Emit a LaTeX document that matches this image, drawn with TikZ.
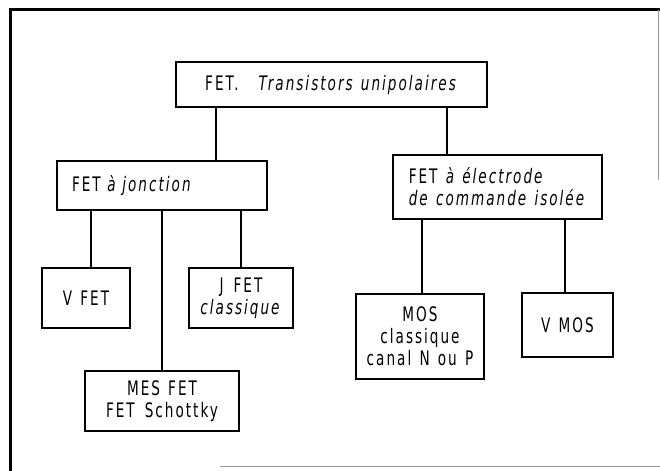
\documentclass[tikz,border=0pt]{standalone}
\usepackage{fontspec}
\setmainfont{DejaVu Sans}[FakeStretch=0.68, LetterSpace=10, WordSpace=1.3]
\definecolor{framegray}{RGB}{150,150,150}

\begin{document}
\begin{tikzpicture}[x=1bp, y=1bp,
    box/.style={draw, line width=1.7bp, inner sep=0pt, align=center,
                font=\fontsize{20bp}{22bp}\selectfont},
    link/.style={line width=1.2bp}]
\useasboundingbox (0,0) rectangle (660,471);

% Frame
\draw[line width=3bp] (10,0) -- (10,461) -- (660,461);
\draw[framegray, line width=0.8bp] (658,461) -- (658,291);
\draw[framegray, line width=1bp] (220,4) -- (660,4);

% Top
\node[box, minimum width=311bp, minimum height=45bp] (T) at (331.5,386.5) {FET.\quad\textit{Transistors unipolaires}};

% Junction FETs
\node[box, minimum width=210bp, minimum height=49bp, inner xsep=15bp, text width=180bp, align=left] (J) at (162,285.5) {FET \textit{à jonction}};
\node[box, minimum width=88bp, minimum height=60bp] (VF) at (86,173) {V FET};
\node[box, minimum width=104bp, minimum height=60bp] (JF) at (241,173) {J\enspace FET\\\textit{classique}};
\node[box, minimum width=154bp, minimum height=60bp] (MES) at (162,70) {MES FET\\FET\enspace Schottky};

% Insulated gate FETs
\node[box, minimum width=209bp, minimum height=64bp, align=left] (I) at (497.5,284) {FET \textit{à électrode}\\\textit{de commande isolée}};
\node[box, minimum width=128bp, minimum height=85bp] (MOS) at (420,134.5) {MOS\\classique\\canal N ou P};
\node[box, minimum width=91bp, minimum height=64bp] (VM) at (567.5,146) {V MOS};

% Links
\coordinate (jt) at ([xshift=54bp]J.north);
\draw[link] (jt) -- (jt |- T.south);
\coordinate (it) at ([xshift=-50.5bp]I.north);
\draw[link] (it) -- (it |- T.south);
\coordinate (vft) at ([xshift=5bp]VF.north);
\draw[link] (vft) -- (vft |- J.south);
\draw[link] (MES.north) -- (MES.north |- J.south);
\draw[link] (JF.north) -- (JF.north |- J.south);
\coordinate (mt) at ([xshift=2bp]MOS.north);
\draw[link] (mt) -- (mt |- I.south);
\coordinate (vmt) at ([xshift=-2.5bp]VM.north);
\draw[link] (vmt) -- (vmt |- I.south);
\end{tikzpicture}
\end{document}
